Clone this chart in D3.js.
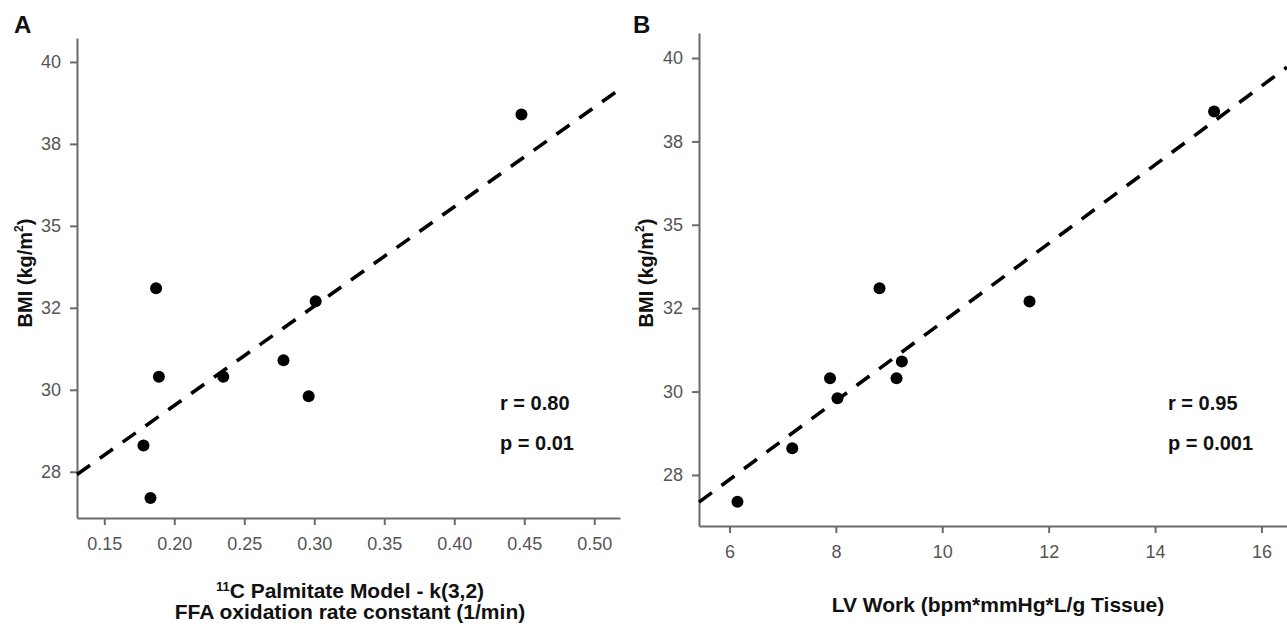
<!DOCTYPE html>
<html>
<head>
<meta charset="utf-8">
<script src="https://cdn.jsdelivr.net/npm/d3@7"></script>
<style>
  body { margin: 0; background: #fff; }
  text { font-family: "Liberation Sans", Arial, sans-serif; }
</style>
</head>
<body>
<div id="chart"></div>
<script>

// same 9 subjects in both panels
const bmi = [33.1, 30.4, 30.4, 30.9, 32.7, 29.8, 28.3, 26.7, 38.4];
const palmitateK = [0.187, 0.189, 0.235, 0.278, 0.301, 0.296, 0.178, 0.183, 0.448];
const lvWork = [8.82, 7.89, 9.14, 9.24, 11.64, 8.03, 7.18, 6.15, 15.11];

const yTicks = [27.5, 30, 32.5, 35, 37.5, 40];
const yTickLabels = ["28", "30", "32", "35", "38", "40"];
const xTicksA = [0.15, 0.20, 0.25, 0.30, 0.35, 0.40, 0.45, 0.50];
const xTicksB = [6, 8, 10, 12, 14, 16];

const statsA = ["r = 0.80", "p = 0.01"];
const statsB = ["r = 0.95", "p = 0.001"];

const width = 1287;
const height = 631;

const svg = d3.select("#chart").append("svg")
    .attr("width", width)
    .attr("height", height);

// least squares line
function fitLine(xs, ys) {
    const mx = d3.mean(xs), my = d3.mean(ys);
    let sxy = 0, sxx = 0;
    xs.forEach((x, i) => { sxy += (x - mx) * (ys[i] - my); sxx += (x - mx) * (x - mx); });
    const b = sxy / sxx;
    return x => my + b * (x - mx);
}

function drawPanel(opt) {

    const x = d3.scaleLinear().domain(opt.xDomain).range(opt.xRange);
    const y = d3.scaleLinear().domain(opt.yDomain).range(opt.yRange);

    const g = svg.append("g");

    // axes
    const xAxis = g.append("g")
        .attr("transform", `translate(0, ${opt.yRange[0]})`)
        .call(d3.axisBottom(x).tickValues(opt.xTicks).tickFormat(opt.xFormat)
            .tickSizeInner(7).tickSizeOuter(0).tickPadding(12));

    const yAxis = g.append("g")
        .attr("transform", `translate(${opt.xRange[0]}, 0)`)
        .call(d3.axisLeft(y).tickValues(yTicks).tickFormat((d, i) => yTickLabels[i])
            .tickSizeInner(7).tickSizeOuter(0).tickPadding(9));

    [xAxis, yAxis].forEach(a => {
        a.select(".domain").attr("stroke", "#6a6a6a").attr("stroke-width", 2);
        a.selectAll(".tick line").attr("stroke", "#6a6a6a").attr("stroke-width", 2);
        a.selectAll(".tick text")
            .attr("font-size", 18)
            .attr("fill", "#555")
            .attr("font-family", "Liberation Sans, Arial, sans-serif");
    });

    // regression line
    const f = fitLine(opt.xs, bmi);
    g.append("line")
        .attr("x1", x(opt.xDomain[0]))
        .attr("y1", y(f(opt.xDomain[0])))
        .attr("x2", x(opt.xDomain[1]))
        .attr("y2", y(f(opt.xDomain[1])))
        .attr("stroke", "#000")
        .attr("stroke-width", 3.6)
        .attr("stroke-dasharray", "16,12");

    // points
    g.append("g")
        .selectAll("circle")
        .data(opt.xs).enter()
        .append("circle")
        .attr("cx", d => x(d))
        .attr("cy", (d, i) => y(bmi[i]))
        .attr("r", 6)
        .attr("fill", "#000");

    // y title
    const yt = g.append("text")
        .attr("transform", `translate(${opt.yTitleX}, 273) rotate(-90)`)
        .attr("text-anchor", "middle")
        .attr("dy", "0.35em")
        .attr("font-size", 20)
        .attr("font-weight", "bold")
        .attr("fill", "#111");
    yt.append("tspan").text("BMI (kg/m");
    yt.append("tspan").attr("font-size", 12).attr("dy", "-0.75em").text("2");
    yt.append("tspan").attr("dy", "0.45em").text(")");

    // panel letter
    g.append("text")
        .attr("x", opt.letterX)
        .attr("y", 33)
        .attr("font-size", 24)
        .attr("font-weight", "bold")
        .attr("fill", "#111")
        .text(opt.letter);

    // r and p
    g.selectAll(".stat")
        .data(opt.stats).enter()
        .append("text")
        .attr("x", opt.statX)
        .attr("y", (d, i) => 403 + i * 40)
        .attr("dy", "0.35em")
        .attr("font-size", 20)
        .attr("font-weight", "bold")
        .attr("fill", "#111")
        .text(d => d);

    return g;
}

const gA = drawPanel({
    xs: palmitateK,
    xDomain: [0.1305, 0.5184], xRange: [77, 620],
    yDomain: [26.09, 40.73], yRange: [518, 38],
    xTicks: xTicksA, xFormat: d3.format(".2f"),
    yTitleX: 25, letter: "A", letterX: 14,
    stats: statsA, statX: 500
});

const gB = drawPanel({
    xs: lvWork,
    xDomain: [5.427, 16.48], xRange: [699, 1287],
    yDomain: [25.97, 40.75], yRange: [526, 33],
    xTicks: xTicksB, xFormat: d3.format("d"),
    yTitleX: 646, letter: "B", letterX: 633,
    stats: statsB, statX: 1168
});

// x titles
const tA = gA.append("text")
    .attr("x", 350)
    .attr("y", 598)
    .attr("text-anchor", "middle")
    .attr("font-size", 21)
    .attr("font-weight", "bold")
    .attr("fill", "#111");
tA.append("tspan").attr("font-size", 13).attr("dy", "-0.55em").text("11");
tA.append("tspan").attr("dy", "0.33em").text("C Palmitate Model - k(3,2)");

gA.append("text")
    .attr("x", 350)
    .attr("y", 619)
    .attr("text-anchor", "middle")
    .attr("font-size", 21)
    .attr("font-weight", "bold")
    .attr("fill", "#111")
    .text("FFA oxidation rate constant (1/min)");

gB.append("text")
    .attr("x", 998)
    .attr("y", 612)
    .attr("text-anchor", "middle")
    .attr("font-size", 21)
    .attr("font-weight", "bold")
    .attr("fill", "#111")
    .text("LV Work (bpm*mmHg*L/g Tissue)");

</script>
</body>
</html>
